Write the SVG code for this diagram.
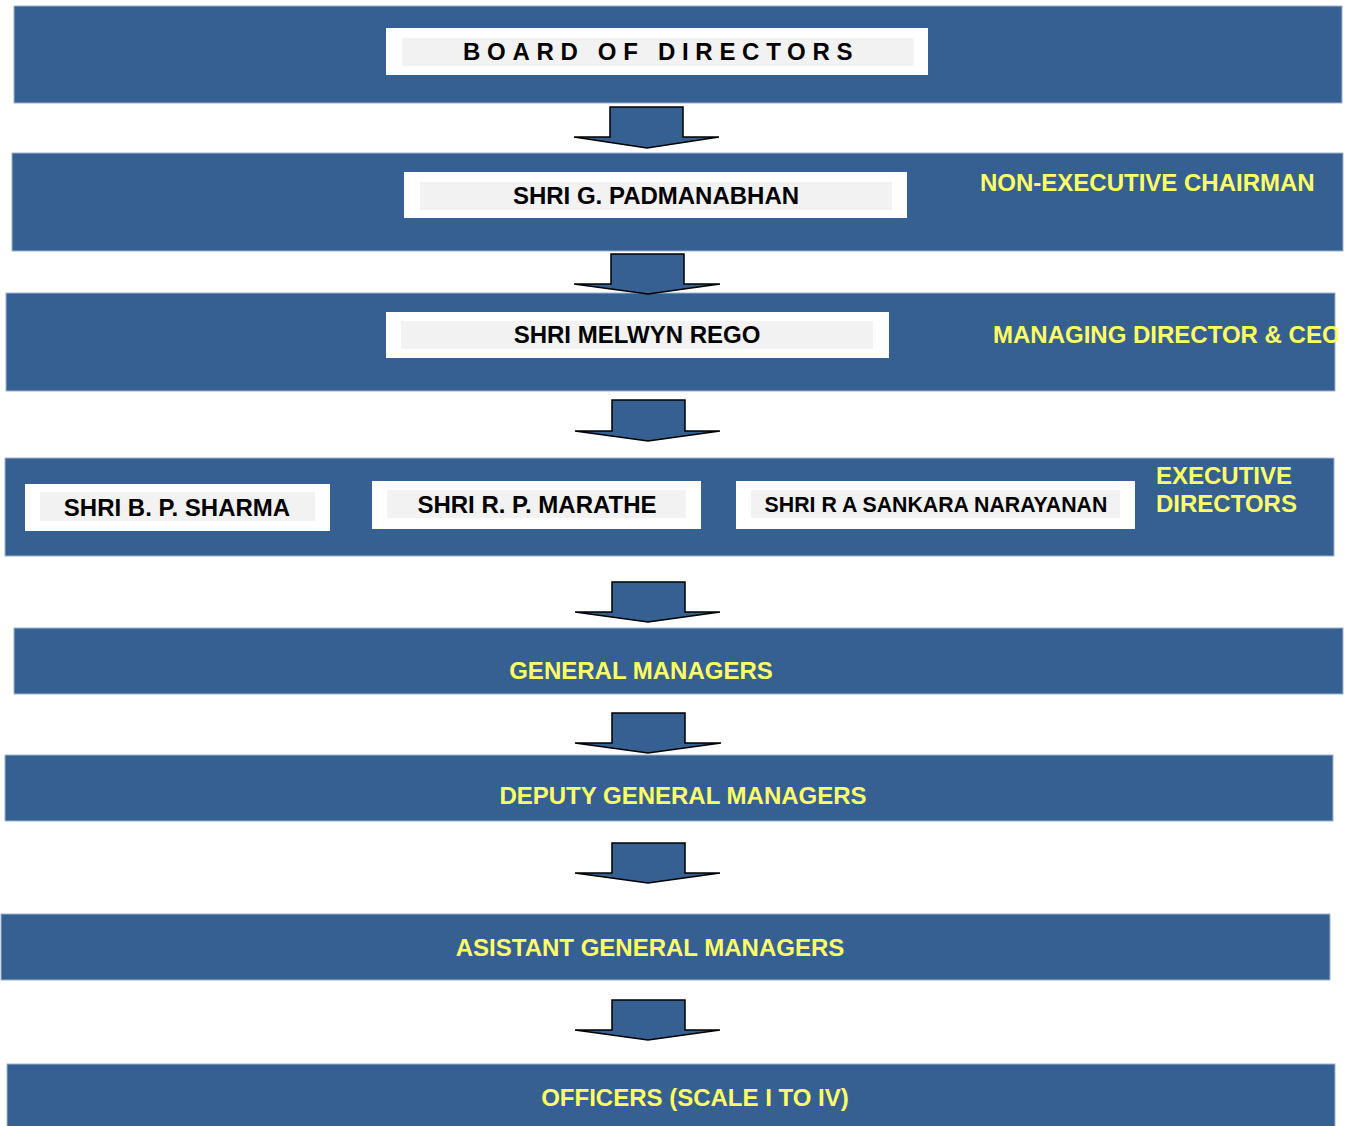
<svg xmlns="http://www.w3.org/2000/svg" width="1352" height="1126" viewBox="0 0 1352 1126">
<style>
.band{fill:#366092;stroke:#9DB3CF;stroke-width:1}
.wb{fill:#FFFFFF}
.gb{fill:#F2F2F2}
.nm{font-family:"Liberation Sans",Arial,sans-serif;font-weight:bold;font-size:24px;fill:#000000}
.yl{font-family:"Liberation Sans",Arial,sans-serif;font-weight:bold;font-size:24px;fill:#FFFF66}
.arr{fill:#366092;stroke:#000000;stroke-width:1.5;stroke-linejoin:miter}
</style>
<defs>
<clipPath id="mdclip"><rect x="6" y="293" width="1332" height="98"/></clipPath>
</defs>
<rect x="0" y="0" width="1352" height="1126" fill="#FFFFFF"/>

<g id="board">
<rect class="band" x="14" y="6" width="1328" height="97"/>
<rect class="wb" x="386" y="28" width="542" height="47"/>
<rect class="gb" x="402" y="38" width="512" height="28"/>
<text class="nm" x="463" y="60" letter-spacing="6.7">BOARD OF DIRECTORS</text>
</g>

<g id="chairman">
<rect class="band" x="12" y="153" width="1331" height="98"/>
<rect class="wb" x="404" y="172" width="503" height="46"/>
<rect class="gb" x="420" y="182" width="472" height="28"/>
<text class="nm" x="656" y="204" text-anchor="middle">SHRI G. PADMANABHAN</text>
<text class="yl" x="980" y="191">NON-EXECUTIVE CHAIRMAN</text>
</g>

<g id="md">
<rect class="band" x="6" y="293" width="1329" height="98"/>
<rect class="wb" x="386" y="312" width="503" height="46"/>
<rect class="gb" x="401" y="321" width="472" height="28"/>
<text class="nm" x="637" y="343" text-anchor="middle">SHRI MELWYN REGO</text>
<text class="yl" x="993" y="343" clip-path="url(#mdclip)">MANAGING DIRECTOR &amp; CEO</text>
</g>

<g id="executive-directors">
<rect class="band" x="5" y="458" width="1329" height="98"/>
<rect class="wb" x="25" y="484" width="305" height="47"/>
<rect class="gb" x="40" y="492" width="275" height="29"/>
<text class="nm" x="177" y="516" text-anchor="middle">SHRI B. P. SHARMA</text>
<rect class="wb" x="372" y="481" width="329" height="48"/>
<rect class="gb" x="387" y="490" width="299" height="28"/>
<text class="nm" x="537" y="513" text-anchor="middle">SHRI R. P. MARATHE</text>
<rect class="wb" x="736" y="481" width="399" height="48"/>
<rect class="gb" x="751" y="490" width="369" height="28"/>
<text class="nm" x="936" y="512" text-anchor="middle" style="font-size:21.3px">SHRI R A SANKARA NARAYANAN</text>
<text class="yl" x="1156" y="484">EXECUTIVE</text>
<text class="yl" x="1156" y="512">DIRECTORS</text>
</g>

<g id="general-managers">
<rect class="band" x="14" y="628" width="1329" height="66"/>
<text class="yl" x="641" y="679" text-anchor="middle">GENERAL MANAGERS</text>
</g>

<g id="deputy-general-managers">
<rect class="band" x="5" y="755" width="1328" height="66"/>
<text class="yl" x="683" y="804" text-anchor="middle">DEPUTY GENERAL MANAGERS</text>
</g>

<g id="assistant-general-managers">
<rect class="band" x="1" y="914" width="1329" height="66"/>
<text class="yl" x="650" y="956" text-anchor="middle">ASISTANT GENERAL MANAGERS</text>
</g>

<g id="officers">
<rect class="band" x="7" y="1064" width="1328" height="66"/>
<text class="yl" x="695" y="1106" text-anchor="middle">OFFICERS (SCALE I TO IV)</text>
</g>

<g id="connectors">
<polygon class="arr" points="610,107 683,107 683,137 719,137 647,148 574,137 610,137"/>
<polygon class="arr" points="611,254 684,254 684,284 720,284 648,294 574,284 611,284"/>
<polygon class="arr" points="612,400 685,400 685,431 720,431 648,441 575,431 612,431"/>
<polygon class="arr" points="612,582 685,582 685,612 720,612 648,622 575,612 612,612"/>
<polygon class="arr" points="612,713 685,713 685,743 721,743 648,753 575,743 612,743"/>
<polygon class="arr" points="612,843 685,843 685,873 720,873 648,883 575,873 612,873"/>
<polygon class="arr" points="612,1000 685,1000 685,1030 720,1030 648,1040 575,1030 612,1030"/>
</g>
</svg>
